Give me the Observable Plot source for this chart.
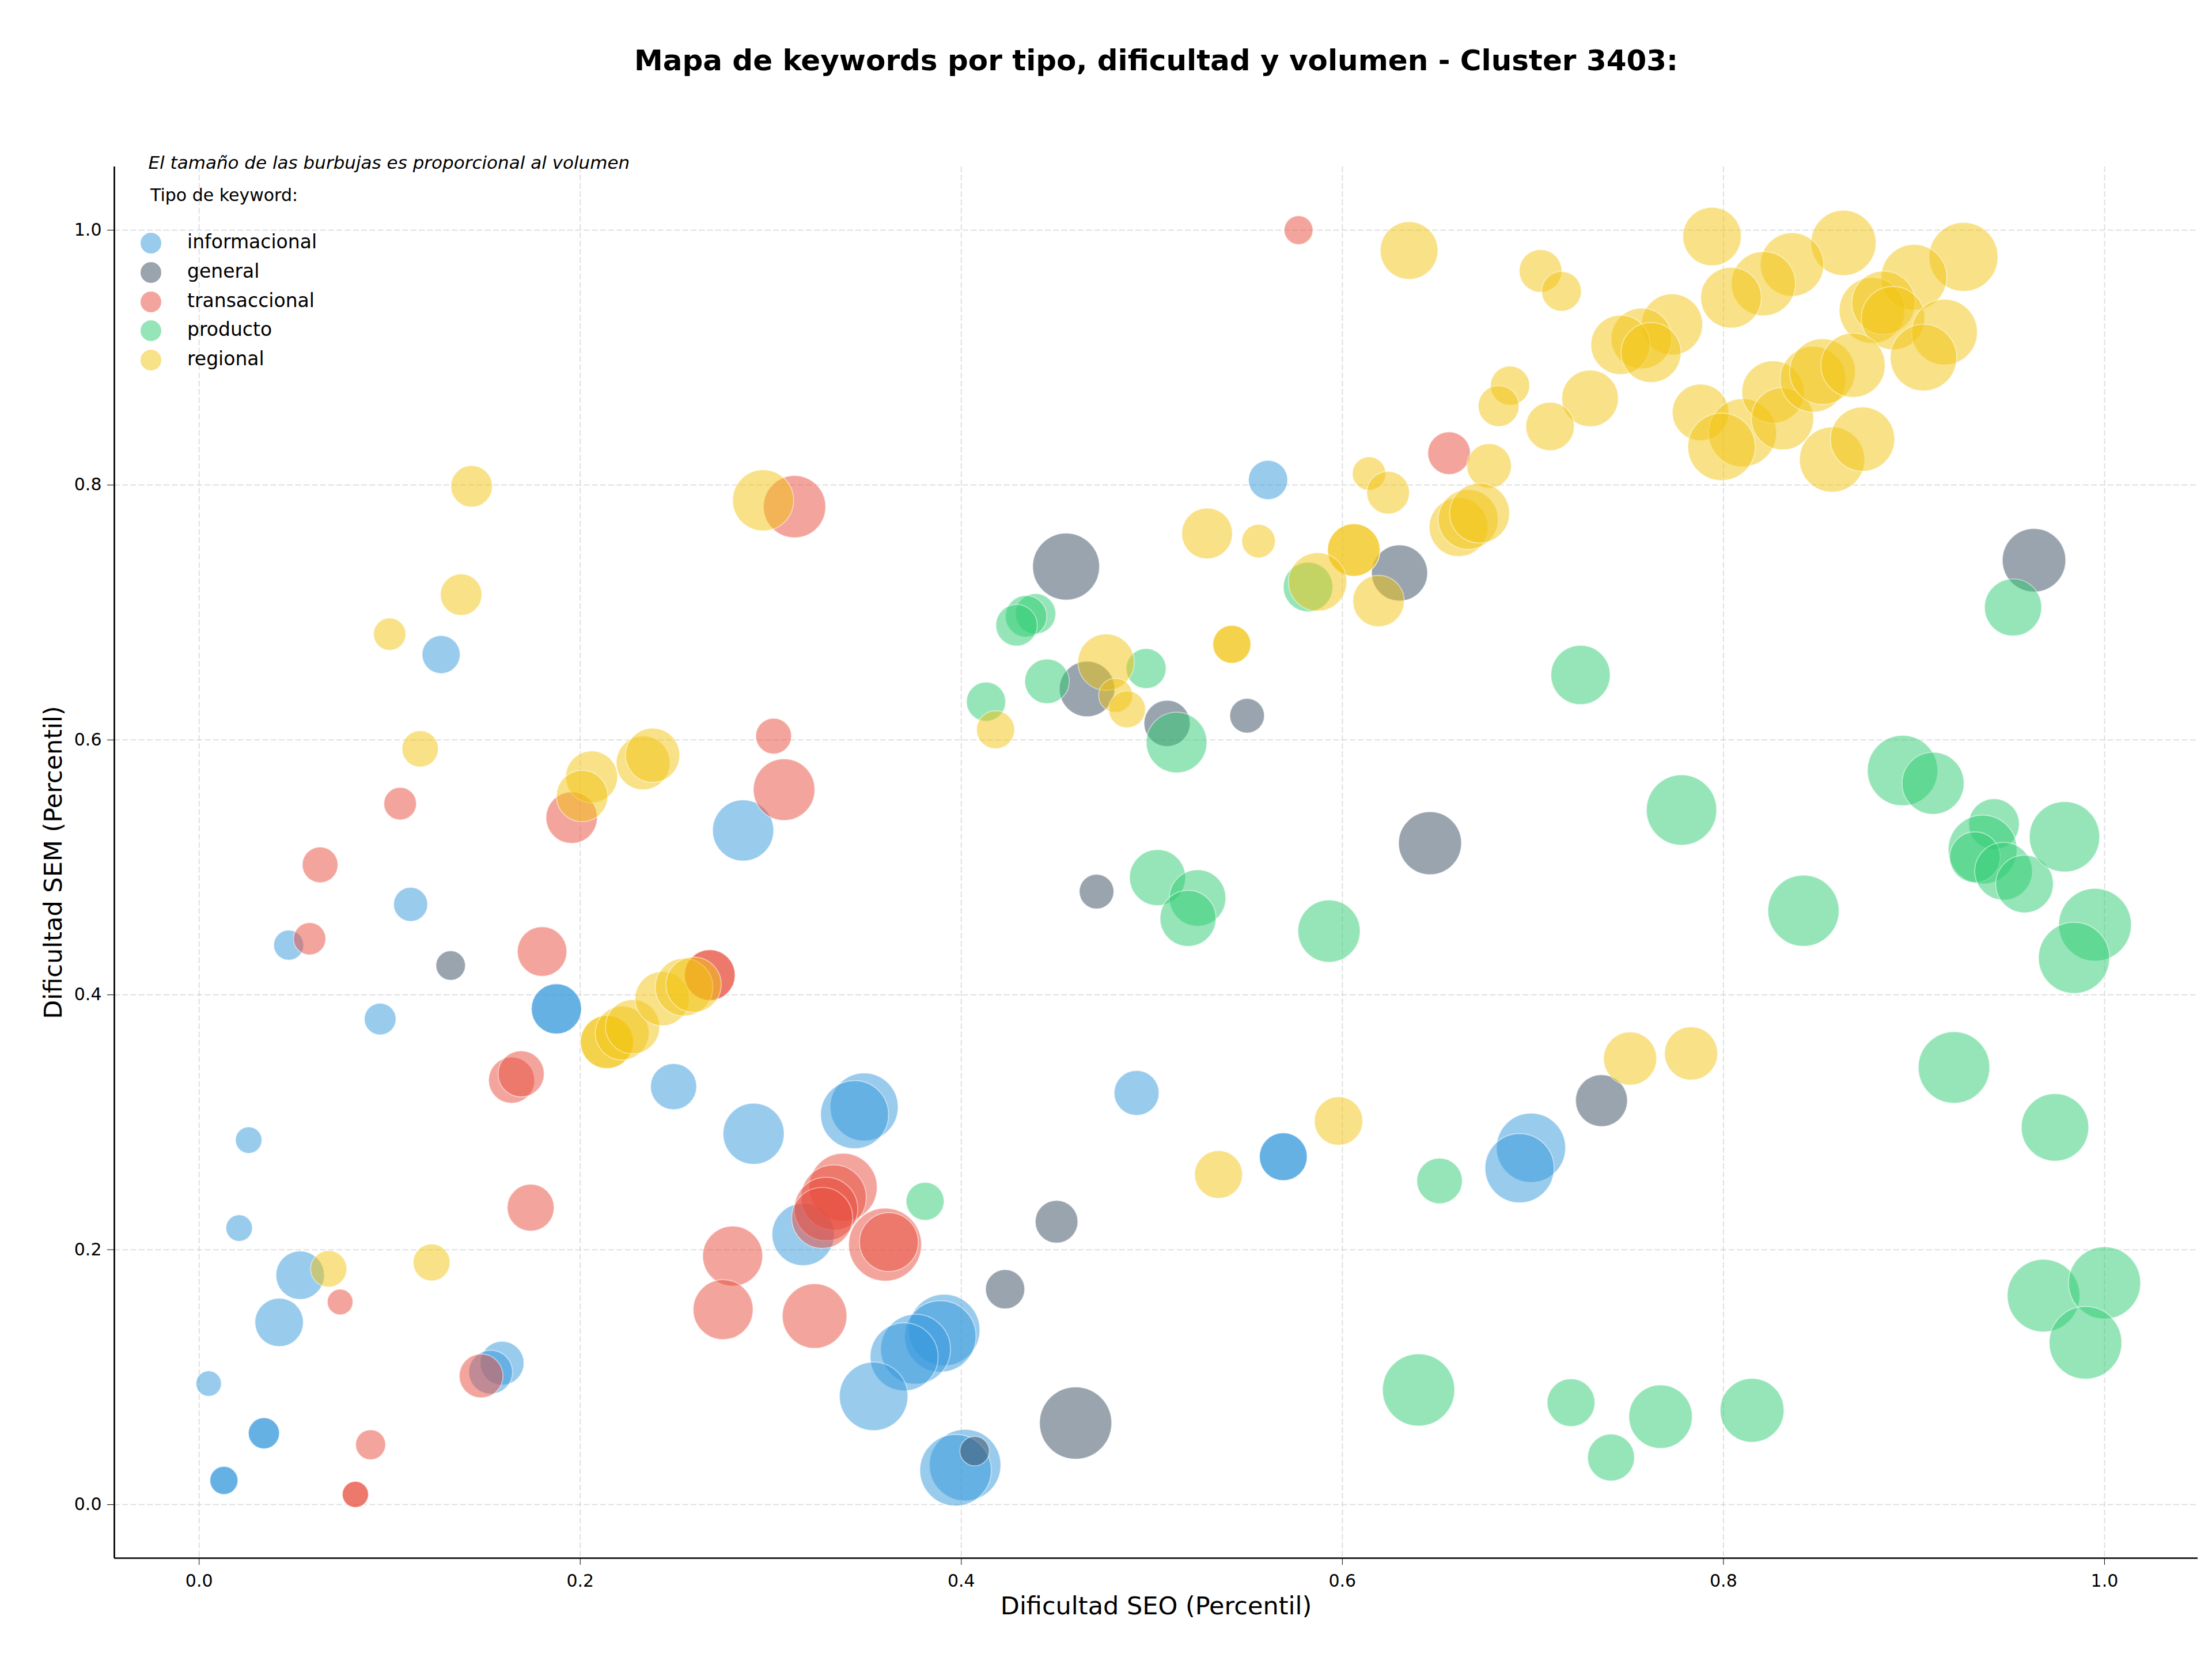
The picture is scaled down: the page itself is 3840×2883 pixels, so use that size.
<!DOCTYPE html>
<html><head><meta charset="utf-8">
<script src="https://cdn.jsdelivr.net/npm/d3@7"></script>
<script src="https://cdn.jsdelivr.net/npm/@observablehq/plot@0.6"></script>
<style>
html,body{margin:0;padding:0;background:#fff;}
#wrap{position:relative;width:3840px;height:2883px;font-family:"DejaVu Sans",sans-serif;color:#000;}
.leg{position:absolute;white-space:nowrap;}
.mk{position:absolute;border-radius:50%;}
</style></head><body><div id="wrap"></div>
<script>
const tipos = ["informacional","general","transaccional","producto","regional"];
const colores = ["#3498db","#34495e","#e74c3c","#2ecc71","#f1c40f"];
const ticks = [0, 0.2, 0.4, 0.6, 0.8, 1.0];
const titulo = "Mapa de keywords por tipo, dificultad y volumen - Cluster 3403:";
const nota = "El tamaño de las burbujas es proporcional al volumen";
const tituloLeyenda = "Tipo de keyword:";
const etiquetaX = "Dificultad SEO (Percentil)";
const etiquetaY = "Dificultad SEM (Percentil)";

// [dificultad SEO, dificultad SEM, volumen]
const informacional = [
 [0.561,0.804,289],[0.127,0.667,272],[0.111,0.471,218],[0.047,0.439,169],[0.095,0.381,189],
 [0.1875,0.389,473],[0.1875,0.389,473],[0.2855,0.529,702],[0.249,0.328,400],[0.291,0.291,702],
 [0.026,0.286,132],[0.021,0.217,132],[0.053,0.180,441],[0.042,0.143,441],[0.159,0.111,361],
 [0.153,0.104,361],[0.005,0.095,121],[0.034,0.056,182],[0.034,0.056,182],[0.013,0.019,148],
 [0.013,0.019,148],[0.317,0.212,729],[0.349,0.312,870],[0.344,0.306,870],[0.391,0.137,961],
 [0.389,0.132,961],[0.376,0.122,918],[0.370,0.116,870],[0.354,0.085,882],[0.402,0.031,961],
 [0.397,0.027,961],[0.492,0.323,380],[0.569,0.273,430],[0.569,0.273,430],[0.699,0.280,900],
 [0.693,0.264,900]
];
const general = [
 [0.455,0.736,841],[0.630,0.731,590],[0.963,0.741,756],[0.466,0.640,576],[0.508,0.613,400],
 [0.550,0.619,225],[0.646,0.519,745],[0.471,0.481,225],[0.132,0.423,163],[0.736,0.317,506],
 [0.450,0.222,342],[0.423,0.169,289],[0.460,0.064,980],[0.407,0.042,163]
];
const transaccional = [
 [0.577,1.000,156],[0.3125,0.783,729],[0.656,0.825,342],[0.3015,0.603,240],[0.307,0.561,713],
 [0.1955,0.539,497],[0.1055,0.550,200],[0.0635,0.502,240],[0.058,0.444,196],[0.180,0.434,462],
 [0.268,0.4155,484],[0.268,0.4155,484],[0.164,0.333,400],[0.169,0.338,400],[0.174,0.233,414],
 [0.074,0.159,124],[0.148,0.101,361],[0.090,0.047,169],[0.082,0.008,129],[0.082,0.008,129],
 [0.280,0.195,676],[0.275,0.153,676],[0.323,0.148,784],[0.338,0.249,870],[0.333,0.241,800],
 [0.329,0.232,760],[0.327,0.225,700],[0.360,0.204,1000],[0.362,0.206,650]
];
const producto = [
 [0.582,0.720,462],[0.439,0.699,306],[0.434,0.697,324],[0.429,0.690,324],[0.413,0.630,289],
 [0.445,0.646,374],[0.497,0.656,301],[0.513,0.598,692],[0.503,0.492,590],[0.524,0.476,600],
 [0.519,0.460,590],[0.593,0.450,729],[0.725,0.651,660],[0.952,0.704,613],[0.894,0.576,930],
 [0.910,0.566,724],[0.778,0.545,930],[0.942,0.534,484],[0.936,0.514,891],[0.932,0.508,484],
 [0.947,0.497,625],[0.958,0.487,625],[0.979,0.524,930],[0.995,0.455,992],[0.984,0.429,952],
 [0.842,0.466,952],[0.921,0.343,961],[0.974,0.296,856],[0.968,0.164,992],[1.000,0.174,977],
 [0.990,0.127,992],[0.720,0.080,430],[0.741,0.037,414],[0.767,0.069,756],[0.815,0.074,767],
 [0.640,0.090,980],[0.651,0.254,390],[0.381,0.238,272]
];
const regional = [
 [0.794,0.995,640],[0.863,0.990,798],[0.926,0.979,891],[0.704,0.968,342],[0.715,0.952,296],
 [0.836,0.973,756],[0.821,0.958,776],[0.804,0.947,692],[0.900,0.963,812],[0.878,0.937,812],
 [0.884,0.943,756],[0.889,0.931,756],[0.916,0.920,812],[0.905,0.900,832],[0.773,0.926,702],
 [0.757,0.915,692],[0.746,0.910,660],[0.762,0.904,676],[0.688,0.878,289],[0.682,0.862,315],
 [0.730,0.868,600],[0.709,0.846,441],[0.788,0.857,600],[0.810,0.841,870],[0.799,0.830,856],
 [0.826,0.873,729],[0.831,0.852,729],[0.847,0.883,812],[0.852,0.889,812],[0.868,0.894,776],
 [0.857,0.820,798],[0.873,0.836,776],[0.635,0.984,625],[0.677,0.815,374],[0.614,0.809,210],
 [0.624,0.794,342],[0.661,0.767,650],[0.666,0.773,676],[0.672,0.778,676],[0.529,0.762,484],
 [0.556,0.756,210],[0.606,0.749,518],[0.606,0.749,518],[0.619,0.709,497],[0.587,0.724,640],
 [0.542,0.675,272],[0.542,0.675,272],[0.476,0.661,600],[0.481,0.635,218],[0.487,0.624,256],
 [0.418,0.608,272],[0.143,0.799,324],[0.1375,0.714,324],[0.100,0.683,196],[0.116,0.593,248],
 [0.296,0.788,702],[0.206,0.571,506],[0.201,0.556,497],[0.233,0.582,543],[0.238,0.588,552],
 [0.214,0.363,529],[0.214,0.363,529],[0.222,0.370,543],[0.2275,0.375,552],[0.243,0.397,552],
 [0.2545,0.406,625],[0.2595,0.408,576],[0.068,0.185,248],[0.122,0.190,256],[0.535,0.259,430],
 [0.598,0.301,441],[0.751,0.350,529],[0.783,0.354,529]
];

const series = {informacional, general, transaccional, producto, regional};
const datos = tipos.flatMap(t => series[t].map(([seo, sem, vol]) => ({tipo: t, seo, sem, vol})));

const W = 3840, H = 2883;
const mL = 198, mR = 25, mT = 289, mB = 179;
const xDom = [-0.0445, 1.049], yDom = [-0.042, 1.0497];

const chart = Plot.plot({
  width: W, height: H,
  marginLeft: mL, marginRight: mR, marginTop: mT, marginBottom: mB,
  style: {fontFamily: "DejaVu Sans", fontSize: "30px", background: "white", color: "#000"},
  x: {domain: xDom, label: null},
  y: {domain: yDom, label: null},
  r: {type: "sqrt", domain: [0, 1000], range: [0, 63.2]},
  color: {domain: tipos, range: colores},
  marks: [
    Plot.gridX(ticks, {stroke: "#cccccc", strokeOpacity: 0.6, strokeWidth: 2, strokeDasharray: "10,4.3"}),
    Plot.gridY(ticks, {stroke: "#cccccc", strokeOpacity: 0.6, strokeWidth: 2, strokeDasharray: "10,4.3"}),
    Plot.dot(datos, {x: "seo", y: "sem", r: "vol", fill: "tipo", fillOpacity: 0.5,
      stroke: "white", strokeWidth: 1.7, strokeOpacity: 0.5, sort: null}),
    Plot.ruleY([yDom[0]], {stroke: "#000", strokeWidth: 2.7}),
    Plot.ruleX([xDom[0]], {stroke: "#000", strokeWidth: 2.7}),
    Plot.axisX({ticks, tickFormat: d3.format(".1f"), tickSize: 12, tickPadding: 16, tickStrokeWidth: 2.7, fontSize: 30, label: null}),
    Plot.axisY({ticks, tickFormat: d3.format(".1f"), tickSize: 12, tickPadding: 10, tickStrokeWidth: 2.7, fontSize: 30, label: null}),
    Plot.text([titulo], {frameAnchor: "top", dy: -203, fontSize: 50, fontWeight: "bold"}),
    Plot.text([nota], {frameAnchor: "top-left", textAnchor: "start", dx: 59, dy: -19, fontSize: 31, fontStyle: "italic"}),
    Plot.text([etiquetaX], {frameAnchor: "bottom", dy: 97, fontSize: 43}),
    Plot.text([etiquetaY], {frameAnchor: "left", textAnchor: "middle", dx: -105, rotate: -90, fontSize: 43})
  ]
});

const wrap = document.getElementById("wrap");
wrap.appendChild(chart);

// legend (overlaid inside the axes, top-left)
const leg = document.createElement("div");
leg.style.cssText = "position:absolute;left:0;top:0;";
const t = document.createElement("div");
t.className = "leg";
t.textContent = tituloLeyenda;
t.style.cssText += "left:261px;top:319px;font-size:30px;line-height:40px;";
leg.appendChild(t);
const rgba = (hex, a) => { const c = d3.rgb(hex); return `rgba(${c.r},${c.g},${c.b},${a})`; };
tipos.forEach((tp, i) => {
  const cy = 422 + i * 50.8;
  const m = document.createElement("div");
  m.className = "mk";
  m.style.cssText += `left:${262-18}px;top:${cy-18}px;width:36px;height:36px;background:${rgba(colores[i],0.5)};`;
  leg.appendChild(m);
  const l = document.createElement("div");
  l.className = "leg";
  l.textContent = tp;
  l.style.cssText += `left:325px;top:${cy-22}px;font-size:33px;line-height:40px;`;
  leg.appendChild(l);
});
wrap.appendChild(leg);
</script>
</body></html>
